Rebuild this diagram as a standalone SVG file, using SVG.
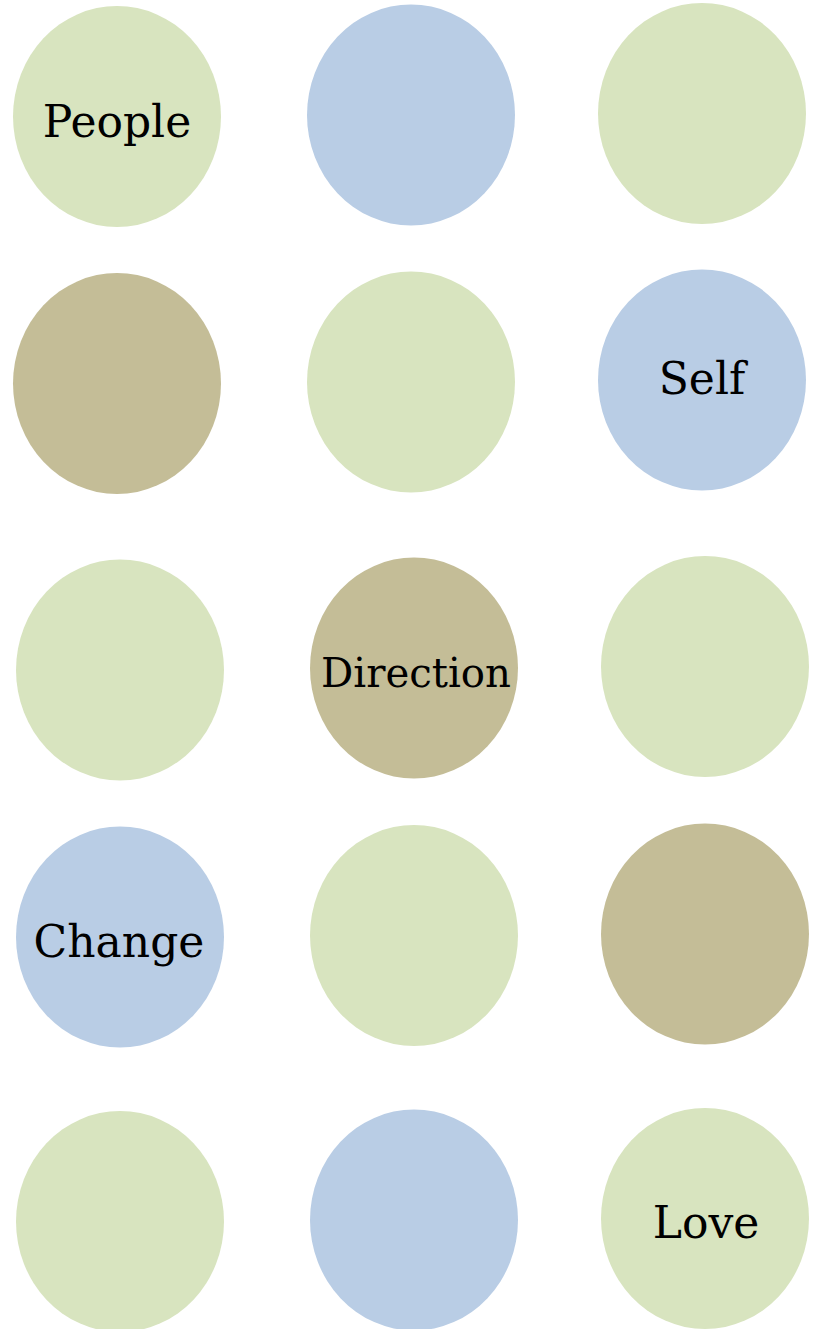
<svg xmlns="http://www.w3.org/2000/svg" width="819" height="1329" viewBox="0 0 819 1329">
<style>
.g{fill:#D8E4BF}.b{fill:#B9CDE5}.t{fill:#C4BD97}
text{font-family:"DejaVu Serif","Liberation Serif",serif;font-size:44px;fill:#000;text-anchor:middle}
</style>
<rect width="819" height="1329" fill="#fff"/>
<g id="n1"><ellipse class="g" cx="117" cy="116.5" rx="104" ry="110.5"/><text x="117" y="137">People</text></g>
<g id="n2"><ellipse class="b" cx="411" cy="115" rx="104" ry="110.5"/></g>
<g id="n3"><ellipse class="g" cx="702" cy="113.5" rx="104" ry="110.5"/></g>
<g id="n4"><ellipse class="t" cx="117" cy="383.5" rx="104" ry="110.5"/></g>
<g id="n5"><ellipse class="g" cx="411" cy="382" rx="104" ry="110.5"/></g>
<g id="n6"><ellipse class="b" cx="702" cy="380" rx="104" ry="110.5"/><text x="702" y="394">Self</text></g>
<g id="n7"><ellipse class="g" cx="120" cy="670" rx="104" ry="110.5"/></g>
<g id="n8"><ellipse class="t" cx="414" cy="668" rx="104" ry="110.5"/><text x="416" y="687" textLength="190" lengthAdjust="spacingAndGlyphs" style="font-size:40.5px">Direction</text></g>
<g id="n9"><ellipse class="g" cx="705" cy="666.5" rx="104" ry="110.5"/></g>
<g id="n10"><ellipse class="b" cx="120" cy="937" rx="104" ry="110.5"/><text x="119" y="957">Change</text></g>
<g id="n11"><ellipse class="g" cx="414" cy="935.5" rx="104" ry="110.5"/></g>
<g id="n12"><ellipse class="t" cx="705" cy="934" rx="104" ry="110.5"/></g>
<g id="n13"><ellipse class="g" cx="120" cy="1221.5" rx="104" ry="110.5"/></g>
<g id="n14"><ellipse class="b" cx="414" cy="1220" rx="104" ry="110.5"/></g>
<g id="n15"><ellipse class="g" cx="705" cy="1218.5" rx="104" ry="110.5"/><text x="706" y="1238">Love</text></g>
<g id="connectors"/>
</svg>
